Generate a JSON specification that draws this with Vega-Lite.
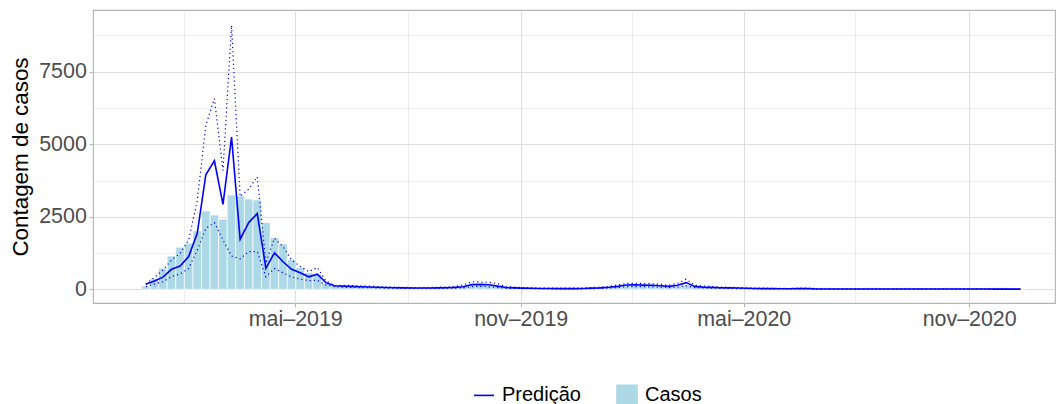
{
  "$schema": "https://vega.github.io/schema/vega-lite/v6.json",
  "width": 962,
  "height": 293,
  "autosize": {"type": "none"},
  "padding": {"left": 93, "top": 10, "right": 9, "bottom": 101},
  "background": "white",
  "config": {
    "view": {"stroke": "#B3B3B3", "strokeWidth": 1.1},
    "font": "Liberation Sans",
    "legend": {
      "title": null,
      "orient": "none",
      "direction": "horizontal",
      "legendX": 380,
      "legendY": 374,
      "labelFont": "Liberation Sans",
      "labelFontSize": 20,
      "labelColor": "#000000",
      "labelOffset": 7,
      "columnPadding": 32,
      "symbolSize": 400,
      "symbolStrokeWidth": 1.6
    }
  },
  "data": {
    "values": [
      {"semana": "2018-12-30", "casos": 110, "pred": 172, "inf": 90, "sup": 185},
      {"semana": "2019-01-06", "casos": 370, "pred": 290, "inf": 180, "sup": 410},
      {"semana": "2019-01-13", "casos": 730, "pred": 420, "inf": 260, "sup": 665},
      {"semana": "2019-01-20", "casos": 1150, "pred": 690, "inf": 440, "sup": 1010},
      {"semana": "2019-01-27", "casos": 1450, "pred": 800, "inf": 527, "sup": 1240},
      {"semana": "2019-02-03", "casos": 1590, "pred": 1130, "inf": 720, "sup": 1700},
      {"semana": "2019-02-10", "casos": 2010, "pred": 1930, "inf": 1350, "sup": 3050},
      {"semana": "2019-02-17", "casos": 2700, "pred": 3950, "inf": 2100, "sup": 5650},
      {"semana": "2019-02-24", "casos": 2560, "pred": 4430, "inf": 2300, "sup": 6570},
      {"semana": "2019-03-03", "casos": 2420, "pred": 2930, "inf": 1700, "sup": 4100},
      {"semana": "2019-03-10", "casos": 3250, "pred": 5250, "inf": 1150, "sup": 9100},
      {"semana": "2019-03-17", "casos": 3220, "pred": 1720, "inf": 1050, "sup": 3200},
      {"semana": "2019-03-24", "casos": 3110, "pred": 2300, "inf": 1300, "sup": 3450},
      {"semana": "2019-03-31", "casos": 3080, "pred": 2610, "inf": 1300, "sup": 3880},
      {"semana": "2019-04-07", "casos": 2300, "pred": 720, "inf": 430, "sup": 900},
      {"semana": "2019-04-14", "casos": 1780, "pred": 1260, "inf": 720, "sup": 1760},
      {"semana": "2019-04-21", "casos": 1560, "pred": 950, "inf": 570, "sup": 1470},
      {"semana": "2019-04-28", "casos": 1030, "pred": 690, "inf": 420, "sup": 1010},
      {"semana": "2019-05-05", "casos": 750, "pred": 570, "inf": 350, "sup": 790},
      {"semana": "2019-05-12", "casos": 580, "pred": 430, "inf": 300, "sup": 610},
      {"semana": "2019-05-19", "casos": 520, "pred": 520, "inf": 310, "sup": 750},
      {"semana": "2019-05-26", "casos": 210, "pred": 230, "inf": 150, "sup": 290},
      {"semana": "2019-06-02", "casos": 114, "pred": 120, "inf": 90, "sup": 130},
      {"semana": "2019-06-09", "casos": 110, "pred": 110, "inf": 70, "sup": 140},
      {"semana": "2019-06-16", "casos": 100, "pred": 100, "inf": 65, "sup": 130},
      {"semana": "2019-06-23", "casos": 90, "pred": 90, "inf": 60, "sup": 120},
      {"semana": "2019-06-30", "casos": 80, "pred": 80, "inf": 55, "sup": 110},
      {"semana": "2019-07-07", "casos": 75, "pred": 70, "inf": 50, "sup": 95},
      {"semana": "2019-07-14", "casos": 60, "pred": 60, "inf": 45, "sup": 80},
      {"semana": "2019-07-21", "casos": 55, "pred": 55, "inf": 40, "sup": 75},
      {"semana": "2019-07-28", "casos": 50, "pred": 50, "inf": 35, "sup": 70},
      {"semana": "2019-08-04", "casos": 45, "pred": 45, "inf": 30, "sup": 60},
      {"semana": "2019-08-11", "casos": 40, "pred": 45, "inf": 30, "sup": 60},
      {"semana": "2019-08-18", "casos": 45, "pred": 45, "inf": 30, "sup": 60},
      {"semana": "2019-08-25", "casos": 50, "pred": 50, "inf": 35, "sup": 70},
      {"semana": "2019-09-01", "casos": 60, "pred": 55, "inf": 35, "sup": 80},
      {"semana": "2019-09-08", "casos": 70, "pred": 65, "inf": 40, "sup": 95},
      {"semana": "2019-09-15", "casos": 100, "pred": 90, "inf": 50, "sup": 150},
      {"semana": "2019-09-22", "casos": 130, "pred": 160, "inf": 90, "sup": 260},
      {"semana": "2019-09-29", "casos": 150, "pred": 170, "inf": 100, "sup": 250},
      {"semana": "2019-10-06", "casos": 140, "pred": 155, "inf": 85, "sup": 240},
      {"semana": "2019-10-13", "casos": 120, "pred": 110, "inf": 60, "sup": 200},
      {"semana": "2019-10-20", "casos": 60, "pred": 60, "inf": 35, "sup": 90},
      {"semana": "2019-10-27", "casos": 50, "pred": 50, "inf": 30, "sup": 75},
      {"semana": "2019-11-03", "casos": 40, "pred": 40, "inf": 25, "sup": 60},
      {"semana": "2019-11-10", "casos": 35, "pred": 35, "inf": 20, "sup": 50},
      {"semana": "2019-11-17", "casos": 30, "pred": 30, "inf": 20, "sup": 45},
      {"semana": "2019-11-24", "casos": 28, "pred": 28, "inf": 18, "sup": 40},
      {"semana": "2019-12-01", "casos": 25, "pred": 25, "inf": 15, "sup": 38},
      {"semana": "2019-12-08", "casos": 25, "pred": 25, "inf": 15, "sup": 38},
      {"semana": "2019-12-15", "casos": 25, "pred": 25, "inf": 15, "sup": 38},
      {"semana": "2019-12-22", "casos": 30, "pred": 28, "inf": 18, "sup": 42},
      {"semana": "2019-12-29", "casos": 40, "pred": 40, "inf": 25, "sup": 60},
      {"semana": "2020-01-05", "casos": 55, "pred": 50, "inf": 30, "sup": 75},
      {"semana": "2020-01-12", "casos": 70, "pred": 70, "inf": 40, "sup": 100},
      {"semana": "2020-01-19", "casos": 100, "pred": 100, "inf": 60, "sup": 150},
      {"semana": "2020-01-26", "casos": 140, "pred": 150, "inf": 90, "sup": 200},
      {"semana": "2020-02-02", "casos": 150, "pred": 155, "inf": 95, "sup": 210},
      {"semana": "2020-02-09", "casos": 140, "pred": 145, "inf": 90, "sup": 200},
      {"semana": "2020-02-16", "casos": 130, "pred": 140, "inf": 85, "sup": 190},
      {"semana": "2020-02-23", "casos": 120, "pred": 125, "inf": 75, "sup": 170},
      {"semana": "2020-03-01", "casos": 100, "pred": 100, "inf": 60, "sup": 140},
      {"semana": "2020-03-08", "casos": 110, "pred": 140, "inf": 80, "sup": 210},
      {"semana": "2020-03-15", "casos": 150, "pred": 230, "inf": 120, "sup": 350},
      {"semana": "2020-03-22", "casos": 90, "pred": 100, "inf": 60, "sup": 140},
      {"semana": "2020-03-29", "casos": 70, "pred": 75, "inf": 45, "sup": 110},
      {"semana": "2020-04-05", "casos": 60, "pred": 65, "inf": 40, "sup": 95},
      {"semana": "2020-04-12", "casos": 55, "pred": 55, "inf": 35, "sup": 80},
      {"semana": "2020-04-19", "casos": 45, "pred": 50, "inf": 30, "sup": 70},
      {"semana": "2020-04-26", "casos": 40, "pred": 45, "inf": 25, "sup": 65},
      {"semana": "2020-05-03", "casos": 35, "pred": 35, "inf": 20, "sup": 50},
      {"semana": "2020-05-10", "casos": 30, "pred": 30, "inf": 18, "sup": 45},
      {"semana": "2020-05-17", "casos": 25, "pred": 25, "inf": 15, "sup": 40},
      {"semana": "2020-05-24", "casos": 22, "pred": 22, "inf": 12, "sup": 35},
      {"semana": "2020-05-31", "casos": 20, "pred": 20, "inf": 10, "sup": 30},
      {"semana": "2020-06-07", "casos": 18, "pred": 18, "inf": 10, "sup": 28},
      {"semana": "2020-06-14", "casos": 20, "pred": 25, "inf": 12, "sup": 38},
      {"semana": "2020-06-21", "casos": 28, "pred": 30, "inf": 15, "sup": 45},
      {"semana": "2020-06-28", "casos": 15, "pred": 15, "inf": 8, "sup": 25},
      {"semana": "2020-07-05", "casos": 12, "pred": 12, "inf": 6, "sup": 20},
      {"semana": "2020-07-12", "casos": 11, "pred": 11, "inf": 6, "sup": 18},
      {"semana": "2020-07-19", "casos": 10, "pred": 10, "inf": 5, "sup": 17},
      {"semana": "2020-07-26", "casos": 10, "pred": 10, "inf": 5, "sup": 17},
      {"semana": "2020-08-02", "casos": 9, "pred": 10, "inf": 5, "sup": 16},
      {"semana": "2020-08-09", "casos": 9, "pred": 9, "inf": 5, "sup": 15},
      {"semana": "2020-08-16", "casos": 8, "pred": 9, "inf": 4, "sup": 15},
      {"semana": "2020-08-23", "casos": 8, "pred": 8, "inf": 4, "sup": 14},
      {"semana": "2020-08-30", "casos": 8, "pred": 8, "inf": 4, "sup": 14},
      {"semana": "2020-09-06", "casos": 7, "pred": 8, "inf": 4, "sup": 14},
      {"semana": "2020-09-13", "casos": 7, "pred": 8, "inf": 4, "sup": 13},
      {"semana": "2020-09-20", "casos": 8, "pred": 9, "inf": 4, "sup": 15},
      {"semana": "2020-09-27", "casos": 9, "pred": 10, "inf": 5, "sup": 17},
      {"semana": "2020-10-04", "casos": 10, "pred": 12, "inf": 6, "sup": 20},
      {"semana": "2020-10-11", "casos": 11, "pred": 12, "inf": 6, "sup": 20},
      {"semana": "2020-10-18", "casos": 10, "pred": 11, "inf": 6, "sup": 18},
      {"semana": "2020-10-25", "casos": 9, "pred": 10, "inf": 5, "sup": 17},
      {"semana": "2020-11-01", "casos": 8, "pred": 9, "inf": 5, "sup": 15},
      {"semana": "2020-11-08", "casos": 8, "pred": 8, "inf": 4, "sup": 14},
      {"semana": "2020-11-15", "casos": 7, "pred": 8, "inf": 4, "sup": 13},
      {"semana": "2020-11-22", "casos": 7, "pred": 7, "inf": 3, "sup": 12},
      {"semana": "2020-11-29", "casos": 6, "pred": 7, "inf": 3, "sup": 12},
      {"semana": "2020-12-06", "casos": 6, "pred": 6, "inf": 3, "sup": 11},
      {"semana": "2020-12-13", "casos": 5, "pred": 6, "inf": 3, "sup": 10}
    ]
  },
  "encoding": {
    "x": {
      "field": "semana",
      "type": "temporal",
      "scale": {
        "type": "utc",
        "domain": [
          {"year": 2018, "month": 11, "date": 21, "utc": true},
          {"year": 2021, "month": 1, "date": 6, "utc": true}
        ]
      },
      "axis": {
        "title": null,
        "domain": false,
        "values": [
          {"year": 2019, "month": 1, "date": 30, "utc": true},
          {"year": 2019, "month": 5, "date": 1, "utc": true},
          {"year": 2019, "month": 8, "date": 1, "utc": true},
          {"year": 2019, "month": 11, "date": 1, "utc": true},
          {"year": 2020, "month": 1, "date": 31, "utc": true},
          {"year": 2020, "month": 5, "date": 1, "utc": true},
          {"year": 2020, "month": 7, "date": 31, "utc": true},
          {"year": 2020, "month": 11, "date": 1, "utc": true}
        ],
        "labelExpr": "utcmonth(datum.value) == 4 ? 'mai–' + utcyear(datum.value) : (utcmonth(datum.value) == 10 ? 'nov–' + utcyear(datum.value) : '')",
        "grid": true,
        "gridColor": "#DEDEDE",
        "gridWidth": {"condition": {"test": "utcmonth(datum.value) == 4 || utcmonth(datum.value) == 10", "value": 1.1}, "value": 0.55},
        "tickColor": "#B3B3B3",
        "tickSize": 3.7,
        "tickWidth": 1.1,
        "tickOpacity": {"condition": {"test": "utcmonth(datum.value) == 4 || utcmonth(datum.value) == 10", "value": 1}, "value": 0},
        "labelFont": "Liberation Sans",
        "labelFontSize": 21.4,
        "labelColor": "#4D4D4D",
        "labelPadding": 2,
        "labelFlush": false,
        "labelOverlap": false
      }
    }
  },
  "layer": [
    {
      "mark": {"type": "bar", "width": 8.67, "stroke": "white", "strokeWidth": 0.7},
      "encoding": {
        "y": {
          "field": "casos",
          "type": "quantitative",
          "scale": {"domain": [-472, 9627], "nice": false, "zero": false},
          "axis": {
            "title": "Contagem de casos",
            "titleFont": "Liberation Sans",
            "titleFontSize": 22.4,
            "titleFontWeight": "normal",
            "titleColor": "#000000",
            "titlePadding": 6,
            "domain": false,
            "values": [0, 1250, 2500, 3750, 5000, 6250, 7500, 8750],
            "format": "d",
            "labelExpr": "datum.value % 2500 == 0 ? datum.label : ''",
            "grid": true,
            "gridColor": "#DEDEDE",
            "gridWidth": {"condition": {"test": "datum.value % 2500 == 0", "value": 1.1}, "value": 0.55},
            "tickColor": "#B3B3B3",
            "tickSize": 3.7,
            "tickWidth": 1.1,
            "tickOpacity": {"condition": {"test": "datum.value % 2500 == 0", "value": 1}, "value": 0},
            "labelFont": "Liberation Sans",
            "labelFontSize": 21.4,
            "labelColor": "#4D4D4D",
            "labelPadding": 3,
            "labelOverlap": false
          }
        },
        "color": {
          "datum": "Casos",
          "type": "nominal",
          "scale": {"domain": ["Predição", "Casos"], "range": ["#0000FF", "#ADD8E6"]},
          "legend": {
            "encode": {
              "symbols": {
                "update": {
                  "shape": {"signal": "datum.label === 'Predição' ? 'M-1,-1M1,1M-1,0L1,0' : 'square'"},
                  "fill": {"signal": "datum.label === 'Predição' ? 'transparent' : '#ADD8E6'"},
                  "stroke": {"signal": "datum.label === 'Predição' ? '#0000FF' : 'transparent'"},
                  "strokeWidth": {"value": 1.6},
                  "opacity": {"value": 1},
                  "fillOpacity": {"value": 1}
                }
              }
            }
          }
        }
      }
    },
    {
      "mark": {"type": "line", "color": "#0000FF", "strokeWidth": 1.2, "strokeDash": [1.2, 3]},
      "encoding": {"y": {"field": "sup", "type": "quantitative"}}
    },
    {
      "mark": {"type": "line", "color": "#0000FF", "strokeWidth": 1.2, "strokeDash": [1.2, 3]},
      "encoding": {"y": {"field": "inf", "type": "quantitative"}}
    },
    {
      "mark": {"type": "line", "strokeWidth": 1.6},
      "encoding": {
        "y": {"field": "pred", "type": "quantitative"},
        "color": {
          "datum": "Predição",
          "type": "nominal",
          "legend": {
            "encode": {
              "symbols": {
                "update": {
                  "shape": {"signal": "datum.label === 'Predição' ? 'M-1,-1M1,1M-1,0L1,0' : 'square'"},
                  "fill": {"signal": "datum.label === 'Predição' ? 'transparent' : '#ADD8E6'"},
                  "stroke": {"signal": "datum.label === 'Predição' ? '#0000FF' : 'transparent'"},
                  "strokeWidth": {"value": 1.6},
                  "opacity": {"value": 1},
                  "fillOpacity": {"value": 1}
                }
              }
            }
          }
        }
      }
    }
  ]
}
